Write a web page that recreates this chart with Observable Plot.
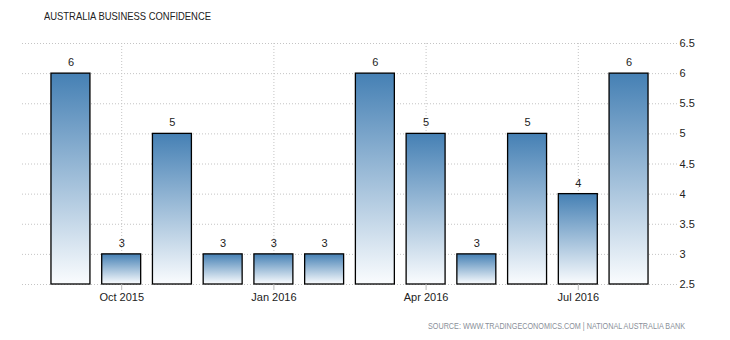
<!DOCTYPE html>
<html>
<head>
<meta charset="utf-8">
<script src="https://cdn.jsdelivr.net/npm/d3@7"></script>
<script src="https://cdn.jsdelivr.net/npm/@observablehq/plot@0.6"></script>
<style>
  html, body { margin: 0; padding: 0; background: #fff; }
  #wrap { position: relative; width: 730px; height: 340px; overflow: hidden; font-family: "Liberation Sans", Arial, sans-serif; }
  #title { position: absolute; left: 44px; top: 10px; font-size: 11.5px; color: #222; white-space: nowrap; transform-origin: 0 0; }
  #source { position: absolute; left: 428px; top: 321px; font-size: 9px; color: #8a8f99; white-space: nowrap; transform-origin: 0 0; }
  #chart { position: absolute; left: 0; top: 0; }
</style>
</head>
<body>
<div id="wrap">
  <div id="chart"></div>
  <div id="title">AUSTRALIA BUSINESS CONFIDENCE</div>
  <div id="source">SOURCE: WWW.TRADINGECONOMICS.COM | NATIONAL AUSTRALIA BANK</div>
</div>
<script>
const months = ["2015-09","2015-10","2015-11","2015-12","2016-01","2016-02","2016-03","2016-04","2016-05","2016-06","2016-07","2016-08"];
const values = [6, 3, 5, 3, 3, 3, 6, 5, 3, 5, 4, 6];
const tickMonths = ["2015-10","2016-01","2016-04","2016-07"];
const tickLabels = ["Oct 2015","Jan 2016","Apr 2016","Jul 2016"];
const yTicks = [2.5, 3, 3.5, 4, 4.5, 5, 5.5, 6, 6.5];
const yBase = 2.5;

const data = months.map((m, i) => ({month: m, value: values[i]}));
const labelOf = new Map(tickMonths.map((m, i) => [m, tickLabels[i]]));

const plot = Plot.plot({
  width: 730,
  height: 340,
  marginTop: 43,
  marginBottom: 56,
  marginLeft: 22,
  marginRight: 53,
  style: {fontFamily: "Liberation Sans, Arial, sans-serif", fontSize: "11px", color: "#222", background: "transparent"},
  x: {type: "band", domain: months, paddingInner: 0.232, paddingOuter: 0.571, round: false, axis: null, label: null},
  y: {domain: [2.5, 6.5], axis: null, label: null},
  marks: [
    Plot.ruleY(yTicks, {stroke: "#c4c4c4", strokeDasharray: "1,2", strokeWidth: 1}),
    Plot.ruleX(tickMonths, {x: d => d, stroke: "#c4c4c4", strokeDasharray: "1,2", strokeWidth: 1}),
    Plot.barY(data, {x: "month", y1: yBase, y2: "value", fill: "url(#barGrad)", stroke: "#000", strokeWidth: 1.3}),
    Plot.text(data, {x: "month", y: "value", text: d => String(d.value), dy: -11, fill: "#222", fontSize: 11}),
    Plot.axisX(tickMonths, {anchor: "bottom", label: null, tickSize: 6, stroke: "#bbb", tickPadding: 3, tickFormat: d => labelOf.get(d), fontSize: 11, fill: "#222"}),
    Plot.axisY(yTicks, {anchor: "right", label: null, tickSize: 0, tickPadding: 2, textAnchor: "start", tickFormat: d => String(d), fontSize: 11, fill: "#222"})
  ]
});

const svg = d3.select(plot);
const defs = svg.insert("defs", ":first-child");
const grad = defs.append("linearGradient").attr("id", "barGrad").attr("x1", 0).attr("y1", 0).attr("x2", 0).attr("y2", 1);
grad.append("stop").attr("offset", "0%").attr("stop-color", "#4580b4");
grad.append("stop").attr("offset", "100%").attr("stop-color", "#fafcfe");

document.getElementById("chart").appendChild(plot);

// fit header/footer text to the widths seen in the reference
function fitWidth(id, target) {
  const el = document.getElementById(id);
  const w = el.getBoundingClientRect().width;
  if (w > 0) el.style.transform = `scaleX(${target / w})`;
}
fitWidth("title", 167);
fitWidth("source", 257);
</script>
</body>
</html>
